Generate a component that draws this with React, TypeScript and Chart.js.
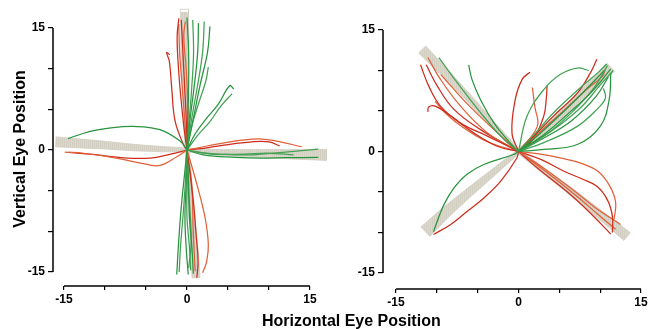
import React, { useEffect, useRef } from "react";
import { Chart, registerables } from "chart.js";

Chart.register(...registerables);

type Pt = [number, number];

const tickValues = [-15, -10, -5, 0, 5, 10, 15];
const tickLabels = [-15, 0, 15];
const yTitle = "Vertical Eye Position";
const xTitle = "Horizontal Eye Position";

// ---------- Left panel (horizontal / vertical targets) ----------
const leftBands: Pt[][] = [
  [[0, 0], [-0.1, 4], [-0.2, 8], [-0.3, 12], [-0.3, 17.3]],
  [[0, 0], [0.3, -4], [0.6, -8], [0.9, -12], [1.1, -15.7]],
  [[0, 0], [-3, 0.1], [-6.6, 0.3], [-10, 0.6], [-13, 0.8], [-16, 1.0]],
  [[0, 0], [4, -0.3], [8, -0.4], [12, -0.5], [17, -0.6]],
];

const leftRed: Pt[][] = [
  [[0, 0], [-0.4, 3], [-0.8, 7], [-1.1, 11], [-1.2, 14], [-1.0, 16.2]],
  [[0, 0], [-0.3, 4], [-0.6, 8], [-0.9, 12], [-1.0, 15.5]],
  [[0, 0], [-0.1, 4], [-0.3, 8], [-0.5, 12], [-0.7, 16]],
  [[0, 0], [0.1, 5], [-0.1, 10], [-0.4, 14], [-0.2, 15.8]],
  [[0, 0], [-0.45, 0.7], [-1.46, 3.6], [-1.87, 7.7], [-2.15, 10.9], [-2.48, 11.97], [-2.1, 11.7]],
  [[0, 0], [-1.2, -0.8], [-3.3, -1.9], [-5, -1.75], [-8.6, -1.0], [-12.6, -0.4], [-14.9, -0.25]],
  [[0, 0], [-2, -0.5], [-4.5, -1.0], [-8, -0.95], [-11.5, -0.55], [-14.5, -0.3]],
  [[0, 0], [1.5, 0.3], [3.8, 0.75], [6.7, 1.2], [9.1, 1.35], [11.1, 1.05], [14, 0.4]],
  [[0, 0], [2, 0.2], [4.5, 0.6], [7.9, 1.0], [10, 1.0], [11.3, 0.5]],
  [[0, 0], [1.2, -4.2], [2.2, -8.3], [2.6, -11.6], [2.4, -13.7], [1.9, -15.1]],
  [[0, 0], [0.77, -6.3], [1.1, -10.3], [1.35, -13.7], [1.2, -15.7]],
  [[0, 0], [0.57, -4.2], [0.77, -10.3], [1.0, -14.9]],
];

const leftGreen: Pt[][] = [
  [[0, 0], [0.1, 4], [0.2, 8], [0.2, 12], [0.0, 16.3]],
  [[0, 0], [0.3, 4], [0.6, 8], [0.8, 12], [0.7, 16]],
  [[0, 0], [0.4, 4], [0.9, 8], [1.3, 12], [1.4, 15.6]],
  [[0, 0], [0.6, 4], [1.3, 8], [1.9, 12], [2.1, 15.8]],
  [[0, 0], [0.8, 4], [1.6, 8], [2.5, 12], [2.8, 15.2]],
  [[0, 0], [0.6, 3], [1.5, 6], [2.3, 8.5], [2.6, 10.2]],
  [[0, 0], [1.0, 2], [2.3, 3.8], [3.8, 5.6], [5.2, 7.9], [5.7, 7.5]],
  [[0, 0], [1.3, 1.8], [2.8, 3.5], [4.2, 5.5], [5.5, 6.9]],
  [[0, 0], [-0.85, 1.1], [-3.3, 2.5], [-6.5, 2.9], [-9.5, 2.7], [-11.8, 2.3], [-14.5, 1.4]],
  [[0, 0], [1.5, -0.3], [3.8, -0.5], [7.9, -0.6], [12, -0.25], [16, 0.1]],
  [[0, 0], [2, -0.6], [5.9, -0.9], [9, -1.0], [12, -0.95], [16, -0.9]],
  [[0, 0], [3, -0.5], [7, -0.5], [10, -0.4], [13, -0.6]],
  [[0, 0], [-0.3, -3], [-0.7, -7], [-1.0, -11], [-1.25, -15.3]],
  [[0, 0], [-0.2, -4], [-0.5, -8.3], [-0.8, -12], [-0.95, -15]],
  [[0, 0], [-0.1, -4], [-0.25, -8.3], [-0.1, -12], [0.15, -15.3]],
  [[0, 0], [0, -4], [0, -8.3], [0.3, -12], [0.45, -14.8]],
  [[0, 0], [0.2, -4], [0.3, -8.3], [0.6, -12], [0.77, -15.2]],
  [[0, 0], [0.1, -4], [0.4, -8], [0.5, -11.5], [0.2, -14.5]],
];

// ---------- Right panel (oblique targets) ----------
const rightBands: Pt[][] = [
  [[0, 0], [-3, 3.2], [-6, 6.5], [-9, 9.7], [-11.8, 12.6]],
  [[0, 0], [3, 2.6], [6, 5.4], [9, 8.2], [11.3, 10.4]],
  [[0, 0], [-3, -2.5], [-6, -5], [-9, -7.6], [-11.4, -9.9]],
  [[0, 0], [3.5, -2.7], [7, -5.4], [10.5, -8.2], [13.3, -10.5]],
];

const rightRed: Pt[][] = [
  [[0, 0], [-3.8, 1.9], [-7.1, 3.5], [-9.55, 5.6], [-11, 8.1], [-12, 10.7]],
  [[0, 0], [-3.8, 2.3], [-7.1, 5.6], [-9.55, 8.9], [-11.1, 11.6]],
  [[0, 0], [-2.6, 0.65], [-5.5, 2.3], [-8.3, 4.4], [-10.2, 5.6], [-11.0, 5.5], [-11.1, 4.9]],
  [[0, 0], [-3.8, 1.2], [-7.1, 3.2], [-9.2, 5.0], [-10.2, 6.2]],
  [[0, 0], [-4.65, 2.7], [-7.9, 5.2], [-9.95, 8.1], [-11.3, 10.7]],
  [[0, 0], [-3, 2.7], [-6, 5.6], [-8.2, 8], [-9.5, 9.5]],
  [[0, 0], [1.5, 1.5], [4.3, 4.4], [7.2, 7.2], [8.8, 9.7], [9.6, 11.4]],
  [[0, 0], [2.5, 2.3], [5.5, 5.0], [8.5, 7.8], [10.3, 9.3], [10.6, 10.1]],
  [[0, 0], [-0.8, 2.3], [-0.4, 6.4], [0.45, 8.9], [1.4, 9.8]],
  [[0, 0], [2.3, 3.1], [2.0, 5.5], [1.7, 7.9]],
  [[0, 0], [1.8, 1.5], [3.1, 4.4], [3.4, 6.5], [3.5, 8.1]],
  [[0, 0], [2.5, -0.3], [5.1, -0.8], [7.8, -1.5], [9.8, -2.5], [11.2, -4.3], [11.9, -6.3], [11.7, -8.4]],
  [[0, 0], [2.8, -1.0], [5.5, -2.4], [7.8, -3.4], [9.6, -4.3], [10.9, -6.0], [11.5, -8.0], [11.5, -10.0]],
  [[0, 0], [3, -2.0], [6.5, -4.6], [9.5, -7.0], [12.5, -9.0]],
  [[0, 0], [2.5, -2.2], [6, -5.0], [9, -7.8], [11.3, -10.2]],
  [[0, 0], [3.5, -2.6], [7, -5.4], [10, -8.0], [11.9, -9.6]],
  [[0, 0], [-0.2, -0.8], [-2.2, -3.7], [-4.2, -5.7], [-6.3, -7.4], [-8.3, -9.0], [-10.4, -10.25]],
];

const rightGreen: Pt[][] = [
  [[0, 0], [-0.6, -0.37], [-4.25, -1.6], [-6.3, -2.8], [-7.9, -4.5], [-9.1, -6.5], [-9.95, -8.6], [-10.4, -9.9]],
  [[0, 0], [-1.8, 1.5], [-4.65, 4.8], [-7.5, 8.5], [-9.75, 11.6]],
  [[0, 0], [-1.4, 1.5], [-3.0, 3.5], [-4.65, 6.4], [-5.7, 8.9], [-6.1, 10.7]],
  [[0, 0], [1.06, 4.4], [3.1, 7.65], [5.1, 9.5], [7.2, 10.3], [8.6, 10.0]],
  [[0, 0], [3.1, 0.25], [7.2, 0.86], [10.0, 3.1], [11.1, 6.4], [11.3, 9.7]],
  [[0, 0], [3.1, 1.1], [7.2, 3.1], [9.6, 5.2], [10.65, 6.6], [10.4, 7.8]],
  [[0, 0], [3, 2.0], [6, 4.6], [9, 7.4], [11.3, 10.2]],
  [[0, 0], [3.5, 2.2], [6.5, 4.8], [9.2, 7.8], [10.9, 10.6]],
  [[0, 0], [2.5, 2.1], [5.5, 4.9], [8.5, 7.9], [10.5, 10.0]],
  [[0, 0], [4, 2.5], [7.5, 5.3], [10, 8.2], [11.6, 10.0]],
  [[0, 0], [3, 1.6], [6.5, 3.8], [9.5, 6.8], [11.0, 9.2]],
  [[0, 0], [2, 2.2], [4.5, 5.0], [7.5, 7.8], [9.8, 9.8], [10.8, 10.8]],
];

// ---------- styles ----------
const FONT = "'Liberation Sans', Arial, Helvetica, sans-serif";
const BAND_A = "rgb(210,206,194)";
const BAND_B = "rgb(220,216,206)";
const REDS = ["rgb(206,44,28)", "rgb(224,96,56)"];
const GREENS = ["rgb(40,148,62)", "rgb(66,162,84)"];
const bandStartWidth = 4;
const leftBandWidths = [8, 8, 10, 11];
const rightBandWidths = [10, 11, 13, 10];

type Geom = {
  left: number; w: number; h: number;
  xLo: number; xHi: number; yLo: number; yHi: number;
  areaLeft: number; areaRight: number; areaTop: number; areaBottom: number;
};

const leftGeom: Geom = { left: 0, w: 330, h: 329, xLo: 64, xHi: 310, yLo: 272, yHi: 28, areaLeft: 53, areaRight: 330, areaTop: 12, areaBottom: 286 };
const rightGeom: Geom = { left: 330, w: 331, h: 329, xLo: 66, xHi: 311, yLo: 273, yHi: 30, areaLeft: 53, areaRight: 331, areaTop: 12, areaBottom: 289 };

function valueAt(p: number, pLo: number, pHi: number) {
  const unit = (pHi - pLo) / 30;
  return -15 + (p - pLo) / unit;
}

// Closed tapered outline around a band centre line (widths in px, converted with the panel's px/unit).
function bandOutline(pts: Pt[], w0: number, w1: number, sx: number, sy: number) {
  const n = pts.length - 1;
  const leftSide: { x: number; y: number }[] = [];
  const rightSide: { x: number; y: number }[] = [];
  pts.forEach((p, i) => {
    const a = pts[Math.max(0, i - 1)];
    const b = pts[Math.min(n, i + 1)];
    const dpx = (b[0] - a[0]) * sx;
    const dpy = (b[1] - a[1]) * sy;
    const len = Math.hypot(dpx, dpy) || 1;
    const half = (w0 + (w1 - w0) * (i / n)) / 2;
    const ox = (-dpy / len) * half / sx;
    const oy = (dpx / len) * half / sy;
    leftSide.push({ x: p[0] + ox, y: p[1] + oy });
    rightSide.push({ x: p[0] - ox, y: p[1] - oy });
  });
  const poly = [...leftSide, ...rightSide.reverse()];
  poly.push(poly[0]);
  return poly;
}

function makePattern(): CanvasPattern | string {
  const c = document.createElement("canvas");
  c.width = 2;
  c.height = 2;
  const cx = c.getContext("2d");
  if (!cx) return BAND_A;
  cx.fillStyle = BAND_A;
  cx.fillRect(0, 0, 1, 2);
  cx.fillStyle = BAND_B;
  cx.fillRect(1, 0, 1, 2);
  return cx.createPattern(c, "repeat") || BAND_A;
}

function buildDatasets(g: Geom, bands: Pt[][], widths: number[], reds: Pt[][], greens: Pt[][]) {
  const toXY = (pts: Pt[]) => pts.map(([x, y]) => ({ x, y }));
  const sx = (g.xHi - g.xLo) / 30;
  const sy = (g.yLo - g.yHi) / 30;
  const pattern = makePattern();
  const ds: any[] = [];
  bands.forEach((b, i) => {
    ds.push({
      data: bandOutline(b, bandStartWidth, widths[i], sx, sy),
      showLine: true,
      pointRadius: 0,
      borderColor: BAND_A,
      borderWidth: 0.8,
      backgroundColor: pattern,
      fill: "shape",
      tension: 0,
      clip: false,
      order: 3,
    });
  });
  reds.forEach((r, i) =>
    ds.push({
      data: toXY(r), showLine: true, pointRadius: 0, borderColor: REDS[i % 2],
      borderWidth: 1.25, tension: 0.4, clip: false, order: 2, fill: false,
    })
  );
  greens.forEach((gr, i) =>
    ds.push({
      data: toXY(gr), showLine: true, pointRadius: 0, borderColor: GREENS[i % 2],
      borderWidth: 1.25, tension: 0.4, clip: false, order: 1, fill: false,
    })
  );
  return ds;
}

const offsetAxes = {
  id: "offsetAxes",
  afterDraw(chart: any) {
    const { ctx, chartArea } = chart;
    const x = chart.scales.x;
    const y = chart.scales.y;
    ctx.save();
    ctx.strokeStyle = "#000";
    ctx.lineWidth = 1.5;
    ctx.beginPath();
    ctx.moveTo(x.getPixelForValue(-15), chartArea.bottom);
    ctx.lineTo(x.getPixelForValue(15), chartArea.bottom);
    ctx.moveTo(chartArea.left, y.getPixelForValue(-15));
    ctx.lineTo(chartArea.left, y.getPixelForValue(15));
    ctx.stroke();
    ctx.restore();
  },
};

function Panel(props: { g: Geom; bands: Pt[][]; widths: number[]; reds: Pt[][]; greens: Pt[][]; showY: boolean }) {
  const ref = useRef<HTMLCanvasElement>(null);
  useEffect(() => {
    const { g } = props;
    const tickFont = { family: FONT, size: 12, weight: "bold" as const };
    const chart = new Chart(ref.current as HTMLCanvasElement, {
      type: "scatter",
      data: { datasets: buildDatasets(g, props.bands, props.widths, props.reds, props.greens) },
      plugins: [offsetAxes],
      options: {
        responsive: false,
        animation: false,
        devicePixelRatio: 1,
        events: [],
        layout: { autoPadding: false, padding: { top: g.areaTop, left: 0, right: g.w - g.areaRight, bottom: 0 } },
        plugins: { legend: { display: false }, tooltip: { enabled: false } },
        scales: {
          x: {
            type: "linear",
            min: valueAt(g.areaLeft, g.xLo, g.xHi),
            max: valueAt(g.areaRight, g.xLo, g.xHi),
            afterBuildTicks: (s: any) => { s.ticks = tickValues.map((v) => ({ value: v })); },
            afterFit: (s: any) => { s.height = g.h - g.areaBottom; },
            ticks: {
              autoSkip: false, maxRotation: 0, minRotation: 0, padding: 2, color: "#000", font: tickFont,
              callback: (v: any) => (tickLabels.includes(Number(v)) ? String(v) : ""),
            },
            grid: { display: true, drawOnChartArea: false, drawTicks: true, tickLength: 4, color: "#000", lineWidth: 1.2 },
            border: { display: false },
          },
          y: {
            type: "linear",
            min: valueAt(g.areaBottom, g.yLo, g.yHi),
            max: valueAt(g.areaTop, g.yLo, g.yHi),
            afterBuildTicks: (s: any) => { s.ticks = tickValues.map((v) => ({ value: v })); },
            afterFit: (s: any) => { s.width = g.areaLeft; },
            ticks: {
              autoSkip: false, padding: 3, color: "#000", font: tickFont,
              callback: (v: any) => (tickLabels.includes(Number(v)) ? String(v) : ""),
            },
            grid: { display: true, drawOnChartArea: false, drawTicks: true, tickLength: 5, color: "#000", lineWidth: 1.2 },
            border: { display: false },
            title: {
              display: props.showY,
              text: yTitle,
              color: "#000",
              font: { family: FONT, size: 16, weight: "bold" as const },
              padding: { top: 11, bottom: 0 },
            },
          },
        },
      } as any,
    });
    return () => chart.destroy();
  }, []);
  const { g } = props;
  return (
    <canvas
      ref={ref}
      width={g.w}
      height={g.h}
      style={{ position: "absolute", left: g.left, top: 0, width: g.w, height: g.h, display: "block" }}
    />
  );
}

export default function App() {
  return (
    <div style={{ position: "fixed", left: 0, top: 0, width: 661, height: 329, background: "#fff", overflow: "hidden" }}>
      <Panel g={leftGeom} bands={leftBands} widths={leftBandWidths} reds={leftRed} greens={leftGreen} showY={true} />
      <Panel g={rightGeom} bands={rightBands} widths={rightBandWidths} reds={rightRed} greens={rightGreen} showY={false} />
      <div
        style={{
          position: "absolute", left: 262, top: 313, fontFamily: FONT, fontSize: 16, fontWeight: "bold",
          lineHeight: 1, whiteSpace: "nowrap", color: "#000",
        }}
      >
        {xTitle}
      </div>
    </div>
  );
}
